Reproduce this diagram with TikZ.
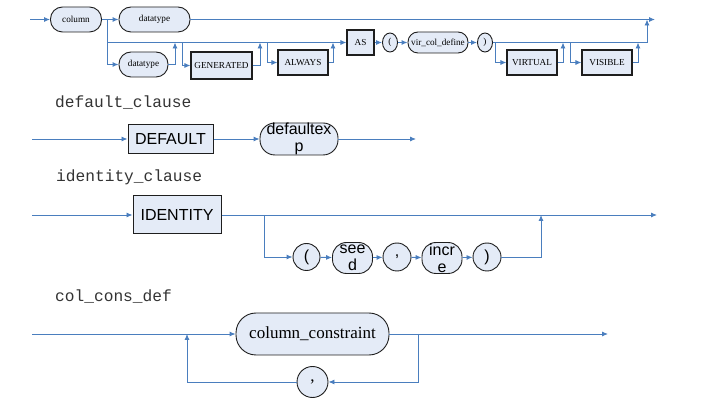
\documentclass[tikz,border=0pt]{standalone}
\usepackage{fontspec}
\setmainfont{Liberation Serif}
\newfontfamily\seriff{Liberation Serif}
\newfontfamily\sansf{Liberation Sans}
\setmonofont{Liberation Mono}
\usetikzlibrary{arrows.meta,shapes.geometric}
\definecolor{lineblue}{RGB}{74,126,190}
\definecolor{nodefill}{RGB}{228,235,247}
\definecolor{edge}{RGB}{30,30,30}
\tikzset{
  conn/.style={draw=lineblue,line width=0.9pt},
  arr/.style={conn,-{Latex[length=6pt,width=5pt]}},
  base/.style={draw=edge,fill=nodefill,inner sep=0pt,line width=0.9pt,align=center},
  rterm/.style={base,rectangle,rounded corners=#1},
  kbox/.style={base,rectangle,line width=1.1pt},
  oval/.style={base,ellipse},
  serifsm/.style={font=\seriff\fontsize{9.2}{10}\selectfont},
  sansbig/.style={font=\sansf\fontsize{16}{18}\selectfont},
  serifbig/.style={font=\seriff\fontsize{17}{19}\selectfont},
  title/.style={anchor=west,text=black!80,font=\ttfamily\fontsize{16.2}{18}\selectfont,inner sep=0pt}
}
\begin{document}
\begin{tikzpicture}[x=1pt,y=-1pt]
\useasboundingbox (0,0) rectangle (710,403);
% ---------- top row ----------
\node[rterm=12pt,serifsm,minimum width=51pt,minimum height=25pt] (column) at (76,19.5) {column};
\node[rterm=12pt,serifsm,minimum width=71pt,minimum height=25pt] (dt1) at (154.5,19.5) {datatype};
\node[rterm=12pt,serifsm,minimum width=49pt,minimum height=25pt] (dt2) at (143.5,64.5) {datatype};
\node[kbox,serifsm,minimum width=61pt,minimum height=27pt] (gen) at (221.5,65.5) {GENERATED};
\node[kbox,serifsm,minimum width=50pt,minimum height=25pt] (always) at (303,62.5) {ALWAYS};
\node[kbox,serifsm,minimum width=27pt,minimum height=25pt] (as) at (360.5,42.5) {AS};
\node[oval,serifsm,minimum width=15pt,minimum height=19pt] (lp) at (390,42.5) {(};
\node[rterm=10pt,serifsm,minimum width=60pt,minimum height=21pt] (vcd) at (438,42.5) {vir\_col\_define};
\node[oval,serifsm,minimum width=15pt,minimum height=19pt] (rp) at (485,42.5) {)};
\node[kbox,serifsm,minimum width=50pt,minimum height=25pt] (virt) at (532,62.5) {VIRTUAL};
\node[kbox,serifsm,minimum width=50pt,minimum height=25pt] (vis) at (607,62.5) {VISIBLE};
\coordinate (s1) at (30,19.5);
\coordinate (e1) at (655,19.5);
\coordinate (b1) at (107,19.5);
\coordinate (j1) at (175,42.5);
\coordinate (b2) at (182,42.5);
\coordinate (j2) at (260,42.5);
\coordinate (b3) at (267,42.5);
\coordinate (j3) at (333,42.5);
\coordinate (b4) at (495,42.5);
\coordinate (j4) at (563,42.5);
\coordinate (b5) at (570,42.5);
\coordinate (j5) at (638,42.5);
\coordinate (j9) at (647,19.5);
\draw[arr] (s1) -- (column);
\draw[arr] (column) -- (dt1);
\draw[arr] (dt1) -- (e1);
\draw[arr] (b1) |- (as);
\draw[arr] (b1) |- (dt2);
\draw[arr] (dt2) -| (j1);
\draw[arr] (b2) |- (gen);
\draw[arr] (gen) -| (j2);
\draw[arr] (b3) |- (always);
\draw[arr] (always) -| (j3);
\draw[arr] (as) -- (lp);
\draw[arr] (lp) -- (vcd);
\draw[arr] (vcd) -- (rp);
\draw[arr] (rp) -| (j9);
\draw[arr] (b4) |- (virt);
\draw[arr] (virt) -| (j4);
\draw[arr] (b5) |- (vis);
\draw[arr] (vis) -| (j5);
% ---------- default_clause ----------
\node[title] (t1) at (55,103) {default\_clause};
\node[kbox,line width=1pt,sansbig,minimum width=85pt,minimum height=29pt] (def) at (170.5,139) {DEFAULT};
\node[rterm=15pt,sansbig,minimum width=78pt,minimum height=32pt] (dexp) at (299,139) {defaultex\\[-1pt]p};
\coordinate (s2) at (32,139);
\coordinate (e2) at (416,139);
\draw[arr] (s2) -- (def);
\draw[arr] (def) -- (dexp);
\draw[arr] (dexp) -- (e2);
% ---------- identity_clause ----------
\node[title] (t2) at (56,177) {identity\_clause};
\node[kbox,line width=1pt,sansbig,minimum width=88pt,minimum height=38pt] (ident) at (177,215) {IDENTITY};
\node[base,circle,sansbig,minimum size=27pt] (lp2) at (306.5,257) {(};
\node[rterm=14pt,sansbig,minimum width=40pt,minimum height=31pt] (seed) at (352.5,258) {see\\[-1pt]d};
\node[base,circle,sansbig,minimum size=28pt] (cm1) at (397,257) {,};
\node[rterm=14pt,sansbig,minimum width=40pt,minimum height=31pt] (incr) at (442,258) {incr\\[-1pt]e};
\node[base,circle,sansbig,minimum size=28pt] (rp2) at (487,257) {)};
\coordinate (s3) at (32,215);
\coordinate (e3) at (657,215);
\coordinate (b6) at (264,215);
\coordinate (j6) at (541,215);
\draw[arr] (s3) -- (ident);
\draw[arr] (ident) -- (e3);
\draw[arr] (b6) |- (lp2);
\draw[arr] (lp2) -- (seed);
\draw[arr] (seed) -- (cm1);
\draw[arr] (cm1) -- (incr);
\draw[arr] (incr) -- (rp2);
\draw[arr] (rp2) -| (j6);
% ---------- col_cons_def ----------
\node[title] (t3) at (55,297) {col\_cons\_def};
\node[rterm=20pt,serifbig,minimum width=153pt,minimum height=42pt] (cc) at (312.5,334) {column\_constraint};
\node[base,circle,serifbig,minimum size=31pt] (cm2) at (312.5,382) {,};
\coordinate (s4) at (32,334);
\coordinate (e4) at (608,334);
\coordinate (l1) at (418,334);
\coordinate (l2) at (187,334);
\draw[arr] (s4) -- (cc);
\draw[arr] (cc) -- (e4);
\draw[arr] (l1) |- (cm2);
\draw[arr] (cm2) -| (l2);
\end{tikzpicture}
\end{document}
